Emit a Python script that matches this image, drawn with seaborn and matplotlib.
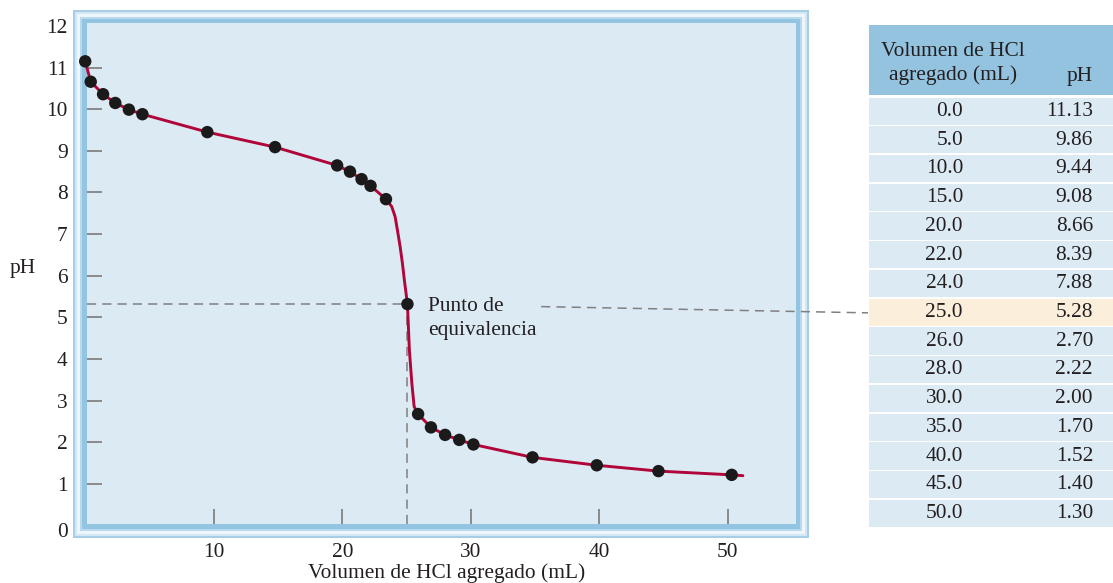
import numpy as np
import pandas as pd
import matplotlib
matplotlib.use("Agg")
import matplotlib.pyplot as plt
from matplotlib.patches import Rectangle
import seaborn as sns

# valores de la tabla
vol_tabla = ["0.0", "5.0", "10.0", "15.0", "20.0", "22.0", "24.0", "25.0",
             "26.0", "28.0", "30.0", "35.0", "40.0", "45.0", "50.0"]
ph_tabla = ["11.13", "9.86", "9.44", "9.08", "8.66", "8.39", "7.88", "5.28",
            "2.70", "2.22", "2.00", "1.70", "1.52", "1.40", "1.30"]
fila_eq = "25.0"

# puntos dibujados
vol_puntos = [0.0, 0.43, 1.39, 2.34, 3.4, 4.45, 9.5, 14.77, 19.6, 20.6, 21.5,
              22.2, 23.4, 25.07, 25.9, 26.9, 28.0, 29.1, 30.2, 34.8, 39.8,
              44.6, 50.3]
ph_puntos = [11.15, 10.66, 10.36, 10.15, 9.99, 9.88, 9.45, 9.09, 8.65, 8.50,
             8.32, 8.16, 7.84, 5.32, 2.68, 2.36, 2.18, 2.06, 1.95, 1.64, 1.45,
             1.31, 1.22]

# trazo de la curva
vol_curva = [0.0, 0.43, 1.39, 2.34, 3.4, 4.45, 9.5, 14.77, 19.6, 20.6, 21.5,
             22.2, 23.4, 23.85, 24.11, 24.29, 24.5, 24.68, 24.83, 25.07, 25.22,
             25.41, 25.59, 25.9, 26.9, 28.0, 29.1, 30.2, 34.8, 39.8, 44.6,
             50.3, 51.17]
ph_curva = [11.15, 10.66, 10.36, 10.15, 9.99, 9.88, 9.45, 9.09, 8.65, 8.50,
            8.32, 8.16, 7.84, 7.66, 7.42, 7.10, 6.70, 6.30, 5.90, 5.32, 4.22,
            3.43, 2.86, 2.68, 2.36, 2.18, 2.06, 1.95, 1.64, 1.45, 1.31,
            1.22, 1.20]

df_puntos = pd.DataFrame({"vol": vol_puntos, "ph": ph_puntos})
df_curva = pd.DataFrame({"vol": vol_curva, "ph": ph_curva})

sns.set_theme(style="white")
plt.rcParams["font.family"] = ["Liberation Serif", "DejaVu Serif"]
plt.rcParams["text.color"] = "#231f20"
FS = 15.4

W, H = 1113, 583
fig = plt.figure(figsize=(W / 100, H / 100), dpi=100)


def fig_rect(x0, y0, x1, y1):
    # pixeles (origen arriba a la izquierda) -> fraccion de figura
    return [x0 / W, 1 - y1 / H, (x1 - x0) / W, (y1 - y0) / H]


# marco azul del grafico
marco = [(0, "#a6cfe7"), (2, "#d3e7f4"), (4, "#eef6fb"), (7, "#b9d9ee"),
         (9, "#93c4e1")]
for d, c in marco:
    r = fig_rect(73 + d, 10 + d, 809 - d, 538 - d)
    fig.patches.append(Rectangle((r[0], r[1]), r[2], r[3], transform=fig.transFigure,
                                 facecolor=c, edgecolor="none", zorder=-5))

ax = fig.add_axes(fig_rect(87, 23, 796, 524))
ax.set_facecolor("#dceaf4")
for s in ax.spines.values():
    s.set_visible(False)

sns.lineplot(data=df_curva, x="vol", y="ph", sort=False, color="#b0063a",
             linewidth=2.1, ax=ax, zorder=3, clip_on=False)
sns.scatterplot(data=df_puntos, x="vol", y="ph", color="#1a1a1a", s=80,
                edgecolor="none", ax=ax, zorder=4, clip_on=False)

ax.set_xlim(0.14, 55.3)
ax.set_ylim(0.04, 12.07)

# lineas del punto de equivalencia
x_eq, y_eq = 25.07, 5.32
dash = dict(color="#808080", linewidth=1.1, linestyle=(0, (6, 4)), zorder=2)
ax.plot([0.14, x_eq], [y_eq, y_eq], **dash)
ax.plot([x_eq, x_eq], [0.04, y_eq], **dash)
ax.plot([35.47, 60.9], [5.26, 5.11], clip_on=False, **dash)
ax.text(26.7, 4.98, "Punto de\nequivalencia", fontsize=FS, va="center",
        ha="left", linespacing=1.38)

ax.set_xticks([10, 20, 30, 40, 50])
ax.set_yticks(range(1, 12))
ax.set_yticks([12], labels=["12"], minor=True)
ax.tick_params(axis="both", which="major", direction="in", length=11,
               width=1.2, color="#7a7a7a", labelsize=FS, labelcolor="#231f20")
ax.tick_params(axis="both", which="minor", length=0, labelsize=FS,
               labelcolor="#231f20")
ax.tick_params(axis="x", pad=14, bottom=True)
ax.tick_params(axis="y", which="both", pad=14, left=True)
ax.annotate("0", xy=(0, 0), xycoords=("axes fraction", "data"),
            xytext=(-19, -7), textcoords="offset pixels", ha="right",
            va="center", fontsize=FS)
ax.set_xlabel("")
ax.set_ylabel("")

fig.text(23 / W, 1 - 268 / H, "pH", fontsize=FS, ha="center", va="center")
fig.text(447 / W, 1 - 573 / H, "Volumen de HCl agregado (mL)", fontsize=FS,
         ha="center", va="center")

# tabla
tx = fig.add_axes(fig_rect(869, 25, 1113, 527))
tx.set_xlim(869, 1113)
tx.set_ylim(527, 25)
tx.axis("off")
tx.add_patch(Rectangle((869, 25), 244, 70, facecolor="#93c3df", edgecolor="none"))
tx.text(953, 63.5, "Volumen de HCl\nagregado (mL)", fontsize=FS, ha="center",
        va="center", linespacing=1.35)
tx.text(1093, 77, "pH", fontsize=FS, ha="right", va="center")
alto = (527 - 96) / len(vol_tabla)
for i, (v, p) in enumerate(zip(vol_tabla, ph_tabla)):
    y0 = 96 + i * alto
    color = "#fbeedb" if v == fila_eq else "#dceaf4"
    tx.add_patch(Rectangle((869, y0 + 1.5), 244, alto - 1.5, facecolor=color,
                           edgecolor="none"))
    yc = y0 + alto / 2 + 1
    tx.text(963, yc, v, fontsize=FS, ha="right", va="center")
    tx.text(1093, yc, p, fontsize=FS, ha="right", va="center")

fig.savefig("out.png", dpi=100)
